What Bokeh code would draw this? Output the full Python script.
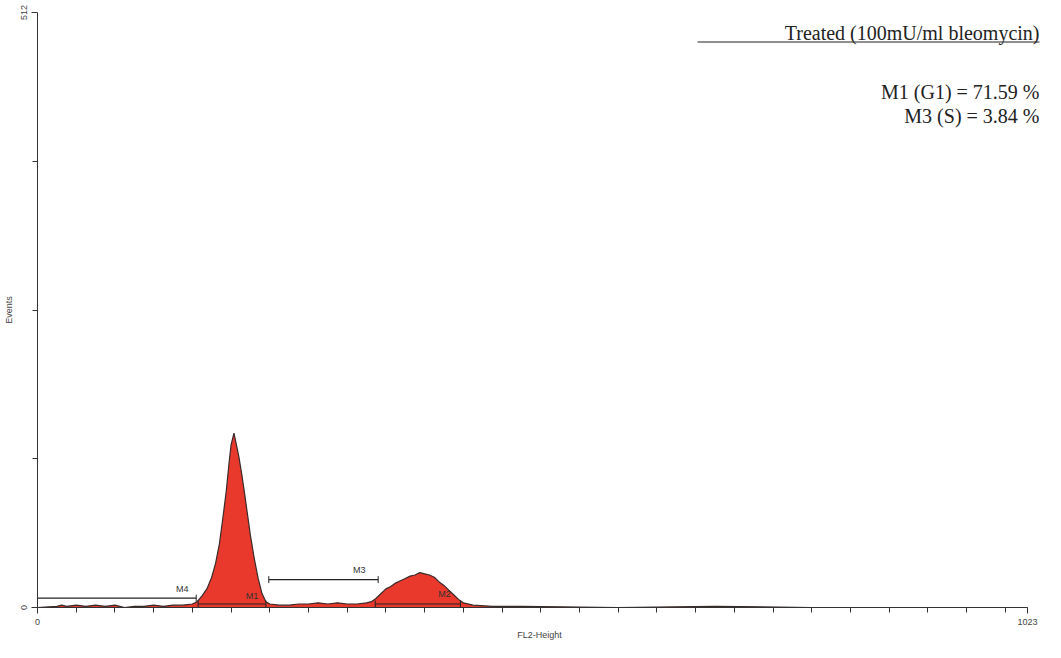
from bokeh.plotting import figure
from bokeh.models import Range1d, FixedTicker, Label, BoxAnnotation, ColumnDataSource
from bokeh.embed import file_html
from bokeh.resources import INLINE
from bokeh.core.properties import value

# histogram (channel, events)
channels = [0, 20, 25, 30, 40, 50, 60, 70, 80, 90, 100, 110, 120, 130, 140, 150, 160, 165,
            170, 175, 180, 184, 188, 192, 195, 198, 200, 203, 205, 208, 211, 214, 217, 220, 224, 228, 232, 236, 240,
            250, 260, 270, 280, 290, 300, 310, 320, 330, 340, 345, 350, 355, 360, 365, 370, 375, 380, 385, 390,
            395, 400, 405, 410, 415, 420, 425, 430, 435, 440, 450, 470, 500, 600, 700, 800, 900, 1023]
events = [0, 1, 2, 1, 2, 1, 2, 1, 2, 0, 1, 1, 2, 1, 2, 2, 3, 5,
          10, 16, 26, 38, 55, 80, 100, 125, 140, 150, 142, 130, 115, 98, 80, 62, 42, 25, 12, 5, 3,
          2, 2, 3, 3, 4, 3, 4, 3, 3, 4, 5, 8, 12, 16, 18, 21, 23, 25, 27, 28,
          30, 29, 28, 26, 22, 19, 15, 11, 7, 4, 2, 1, 1, 0, 1, 0, 0, 0]

# markers: name, start, end, level
m_names = ["M4", "M1", "M3", "M2"]
m_start = [0, 166, 239, 349]
m_end = [164, 236, 352, 437]
m_level = [8, 3, 24, 3]

title_text = "Treated (100mU/ml bleomycin)"
stats = ["M1 (G1) = 71.59 %", "M3 (S) = 3.84 %"]

W, H = 1045, 642
FW = W - 33 - 4
TX = FW - 6
x_end = 1023 * 1008 / 994
p = figure(width=W, height=H, output_backend="svg", toolbar_location=None,
           x_range=Range1d(0, x_end), y_range=Range1d(0, 512),
           min_border_left=33, min_border_right=4, min_border_top=12, min_border_bottom=28)
p.outline_line_color = None
p.grid.visible = False

src = ColumnDataSource(dict(x=channels, y=events))
p.varea(x="x", y1=0, y2="y", source=src, fill_color="#e8392c")
p.line(x="x", y="y", source=src, line_color="#3a2a2a", line_width=1.2)

p.segment(x0=m_start, y0=m_level, x1=m_end, y1=m_level, line_color="#222222", line_width=1.2)
p.segment(x0=m_start, y0=[l - 3 for l in m_level], x1=m_start, y1=[l + 3 for l in m_level], line_color="#222222")
p.segment(x0=m_end, y0=[l - 3 for l in m_level], x1=m_end, y1=[l + 3 for l in m_level], line_color="#222222")
lx = [m_end[0] - 8, m_end[1] - 8, m_start[2] + 100, m_end[3] - 10]
ly = [m_level[0] + 4, m_level[1] + 3, m_level[2] + 4, m_level[3] + 4]
p.text(x=lx, y=ly, text=m_names, text_font=value("Liberation Sans"), text_font_size="9px",
       text_align="right", text_color="#333333")

for ax in (p.xaxis[0], p.yaxis[0]):
    ax.axis_line_color = "#333333"
    ax.major_tick_line_color = "#333333"
    ax.minor_tick_line_color = "#333333"
    ax.major_label_text_font = "Liberation Sans"
    ax.major_label_text_font_size = "9px"
    ax.axis_label_text_font = "Liberation Sans"
    ax.axis_label_text_font_size = "9px"
    ax.axis_label_text_font_style = "normal"
    ax.major_tick_out = 6
    ax.major_tick_in = 0
    ax.minor_tick_out = 5
    ax.minor_tick_in = 0
p.xaxis.bounds = (0, 1023)
p.xaxis.ticker = FixedTicker(ticks=[0, 1023], minor_ticks=list(range(0, 1023, 40)))
p.yaxis.ticker = FixedTicker(ticks=[0, 512], minor_ticks=[128, 256, 384])
p.yaxis.major_label_orientation = "vertical"
p.xaxis.axis_label = "FL2-Height"
p.yaxis.axis_label = "Events"
p.xaxis.axis_label_standoff = 2
p.yaxis.axis_label_standoff = 4

p.add_layout(Label(x=TX, y=575, x_units="screen", y_units="screen", text=title_text,
                   text_align="right", text_baseline="alphabetic", text_font="Liberation Serif",
                   text_font_size="20px", text_color="#222222"))
p.add_layout(BoxAnnotation(left=TX - 342, right=TX, bottom=565, top=566,
                           left_units="screen", right_units="screen", top_units="screen",
                           bottom_units="screen", fill_color="#222222", fill_alpha=1, line_color=None))
for i, s in enumerate(stats):
    p.add_layout(Label(x=TX, y=516 - 24 * i, x_units="screen", y_units="screen", text=s,
                       text_align="right", text_baseline="alphabetic", text_font="Liberation Serif",
                       text_font_size="20px", text_color="#222222"))

open("out.html", "w").write(file_html(p, INLINE))
